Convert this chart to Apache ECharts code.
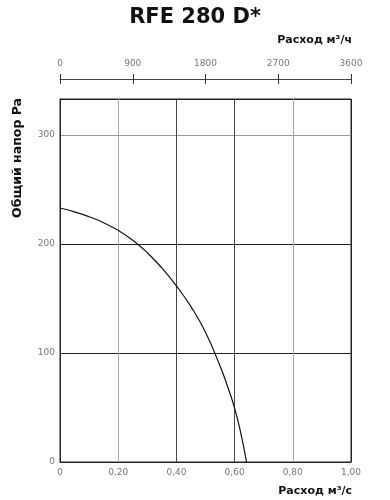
<!DOCTYPE html>
<html><head><meta charset="utf-8">
<script src="https://cdn.jsdelivr.net/npm/echarts@6/dist/echarts.min.js"></script>
<style>html,body{margin:0;padding:0;background:#fff}#c{width:390px;height:500px}</style>
</head><body><div id="c"></div>
<script>
const titleText = 'RFE 280 D*';
const flowM3s = [0, 0.05, 0.10, 0.15, 0.20, 0.25, 0.30, 0.35, 0.40, 0.45, 0.50, 0.55, 0.575, 0.60, 0.62, 0.641];
const pressurePa = [233, 229.5, 225, 219.5, 212.5, 203.5, 192, 178, 161.5, 142.5, 119, 88, 70, 49.5, 28, 0];
const bottomTicks = ['0', '0,20', '0,40', '0,60', '0,80', '1,00'];
const topTicks = ['0', '900', '1800', '2700', '3600'];
const yTicks = [0, 100, 200, 300];

const chart = echarts.init(document.getElementById('c'));
const lbl = {fontFamily: 'DejaVu Sans', fontSize: 9, color: '#777'};
chart.setOption({
  animation: false,
  backgroundColor: '#fff',
  title: {text: titleText, left: 'center', top: 2,
    textStyle: {fontFamily: 'DejaVu Sans', fontWeight: 900, fontSize: 21, color: '#111'}},
  grid: {left: 60, right: 39, top: 99, bottom: 38, show: true, borderColor: '#222', borderWidth: 1},
  graphic: [
    {type: 'text', right: 38, top: 35, style: {text: 'Расход м³/ч', font: 'bold 11px "DejaVu Sans"', fill: '#111'}},
    {type: 'text', right: 38, top: 486, style: {text: 'Расход м³/с', font: 'bold 11px "DejaVu Sans"', fill: '#111'}},
    {type: 'text', x: 18, y: 158, rotation: Math.PI / 2,
      style: {text: 'Общий напор Pa', font: '900 12.5px "DejaVu Sans"', fill: '#111', align: 'center', verticalAlign: 'middle'}}
  ],
  xAxis: [
    {type: 'value', min: 0, max: 1, interval: 0.2, position: 'bottom',
      axisLine: {show: true, lineStyle: {color: '#222'}}, axisTick: {show: false},
      axisLabel: {...lbl, margin: 6, formatter: (v) => bottomTicks[Math.round(v / 0.2)]},
      splitLine: {show: true, lineStyle: {color: ['#222', '#aaa', '#444', '#444', '#aaa', '#222'], width: 1}}},
    {type: 'value', min: 0, max: 3600, interval: 900, position: 'top', offset: 20,
      axisLine: {show: true, lineStyle: {color: '#444'}},
      axisTick: {show: true, length: 5, lineStyle: {color: '#333'}},
      axisLabel: {...lbl, margin: 11, formatter: (v) => topTicks[Math.round(v / 900)]},
      splitLine: {show: false}},
    {type: 'value', min: 0, max: 3600, interval: 900, position: 'top', offset: 20,
      axisLine: {show: false},
      axisTick: {show: true, inside: true, length: 5, lineStyle: {color: '#333'}},
      axisLabel: {show: false}, splitLine: {show: false}}
  ],
  yAxis: {type: 'value', min: 0, max: 333, interval: 100,
    axisLine: {show: true, lineStyle: {color: '#222'}}, axisTick: {show: false},
    axisLabel: {...lbl, margin: 5, formatter: (v) => (yTicks.includes(v) ? String(v) : '')},
    splitLine: {show: true, lineStyle: {color: ['#222', '#222', '#222', '#999', '#222'], width: 1}}},
  series: [{type: 'line', xAxisIndex: 0, smooth: 0.5, symbol: 'none',
    data: flowM3s.map((x, i) => [x, pressurePa[i]]),
    lineStyle: {color: '#111', width: 1.2}}]
});
</script></body></html>
